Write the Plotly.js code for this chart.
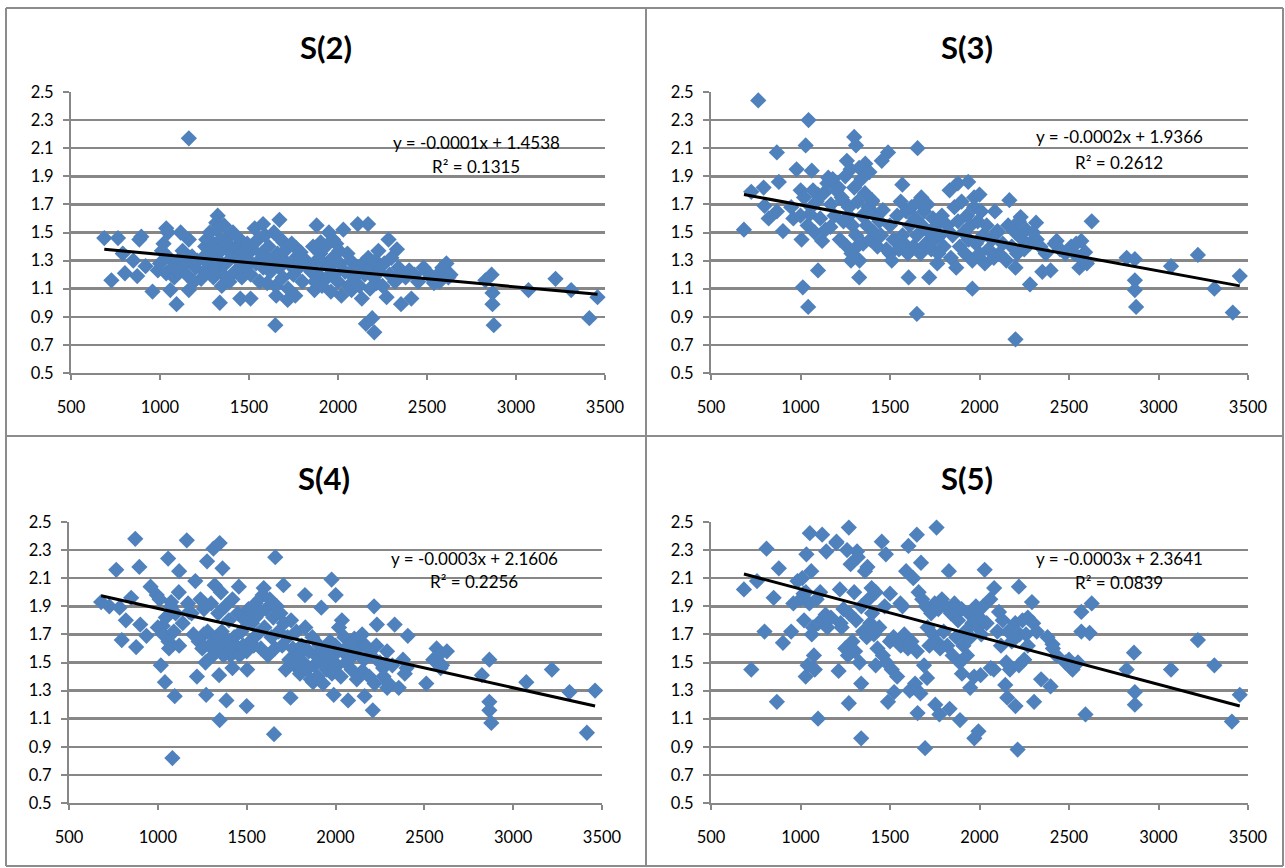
<!DOCTYPE html>
<html>
<head>
<meta charset="utf-8">
<script src="https://cdn.plot.ly/plotly-3.0.1.min.js"></script>
<style>html,body{margin:0;padding:0;background:#fff;}#chart{width:1285px;height:868px;}</style>
</head>
<body>
<div id="chart"></div>
<script>
// ---------- DATA ----------
const panelTitles = ["S(2)", "S(3)", "S(4)", "S(5)"];
const equations = ["y = -0.0001x + 1.4538", "y = -0.0002x + 1.9366", "y = -0.0003x + 2.1606", "y = -0.0003x + 2.3641"];
const rSquared = ["R² = 0.1315", "R² = 0.2612", "R² = 0.2256", "R² = 0.0839"];
const xTicks = [500, 1000, 1500, 2000, 2500, 3000, 3500];
const yTicks = [0.5, 0.7, 0.9, 1.1, 1.3, 1.5, 1.7, 1.9, 2.1, 2.3, 2.5];

const s2x = [687,764,727,791,803,872,884,895,850,919,
958,988,1011,1035,1045,1058,1035,1093,1116,1127,
1162,1162,1162,1231,1254,1324,1316,1336,1347,1393,
1451,1509,1532,1579,1602,1648,1671,1653,1694,1717,
1764,1798,1833,1868,1880,1903,1949,1972,2007,2019,
2030,2053,2076,2111,2134,2169,2157,2192,2204,2216,
2227,2273,2284,2331,2354,2400,2412,2481,2539,2586,
2609,2632,2828,2863,2868,2868,2875,3070,3222,3310,
3412,3458,
1000,1020,1050,1070,1080,1100,1110,1140,1150,1180,
1190,1200,1210,1240,1250,1260,1270,1280,1290,1300,
1300,1310,1320,1330,1340,1350,1355,1360,1370,1380,
1390,1400,1410,1420,1430,1440,1450,1460,1470,1480,
1490,1500,1510,1520,1540,1550,1560,1570,1580,1590,
1600,1610,1620,1630,1640,1650,1660,1670,1680,1690,
1700,1710,1720,1730,1740,1750,1760,1770,1780,1790,
1800,1810,1820,1850,1860,1870,1880,1890,1900,1910,
1920,1930,1940,1950,1960,1970,1980,1990,2000,2010,
2040,2060,2070,2090,2100,2120,2140,2150,2170,2180,
2190,2200,2210,2230,2250,2260,2290,2300,2320,2340,
2360,2380,2430,2450,2500,2520,2560,2570,2600,2620];
const s2y = [1.46,1.46,1.16,1.35,1.21,1.19,1.45,1.47,1.30,1.26,
1.08,1.23,1.37,1.53,1.50,1.09,1.21,0.99,1.50,1.37,
1.45,2.17,1.09,1.17,1.40,1.62,1.57,1.00,1.12,1.48,
1.03,1.03,1.53,1.56,1.14,0.84,1.59,1.05,1.43,1.02,
1.39,1.30,1.25,1.09,1.55,1.43,1.50,1.45,1.37,1.05,
1.52,1.35,1.09,1.56,1.03,1.56,0.85,0.89,0.79,1.14,
1.37,1.04,1.45,1.38,0.99,1.23,1.03,1.25,1.14,1.25,
1.28,1.20,1.16,1.20,1.07,0.99,0.84,1.09,1.17,1.09,
0.89,1.04,
1.28,1.42,1.32,1.25,1.18,1.30,1.22,1.28,1.20,1.33,
1.15,1.25,1.30,1.32,1.22,1.45,1.28,1.50,1.35,1.18,
1.42,1.25,1.52,1.30,1.45,1.38,1.20,1.55,1.28,1.42,
1.15,1.35,1.50,1.22,1.40,1.30,1.45,1.18,1.36,1.25,
1.42,1.30,1.20,1.38,1.28,1.45,1.15,1.35,1.25,1.48,
1.32,1.40,1.22,1.30,1.50,1.12,1.35,1.25,1.45,1.18,
1.30,1.38,1.10,1.27,1.42,1.20,1.05,1.33,1.25,1.36,
1.15,1.28,1.30,1.22,1.40,1.15,1.30,1.20,1.35,1.12,
1.28,1.40,1.18,1.25,1.08,1.32,1.20,1.42,1.15,1.28,
1.22,1.12,1.30,1.18,1.25,1.12,1.28,1.20,1.32,1.10,
1.25,1.18,1.30,1.22,1.12,1.28,1.20,1.32,1.15,1.25,
1.22,1.18,1.20,1.15,1.22,1.18,1.20,1.15,1.22,1.18];

const s3x = [684,725,764,794,799,822,868,879,902,868,
948,960,978,1001,1006,1013,1029,1045,1043,1063,
1052,1098,1121,1098,1155,1167,1213,1236,1259,1270,
1300,1310,1328,1316,1282,1328,1362,1385,1400,1454,
1489,1500,1569,1604,1650,1654,1675,1719,1764,1833,
1879,1937,1960,1970,2000,2086,2100,2167,2201,2201,
2230,2282,2316,2351,2397,2431,2480,2512,2569,2558,
2590,2627,2600,2822,2868,2868,2868,2875,3070,3220,
3312,3415,3454,
1000,1020,1040,1060,1070,1080,1090,1110,1130,1140,
1150,1170,1180,1190,1200,1220,1230,1240,1250,1260,
1270,1280,1285,1290,1300,1310,1320,1330,1340,1345,
1350,1360,1370,1380,1390,1400,1410,1420,1430,1440,
1450,1460,1480,1500,1510,1520,1540,1550,1560,1570,
1580,1590,1600,1610,1620,1630,1640,1650,1660,1670,
1680,1690,1700,1710,1720,1730,1740,1750,1760,1770,
1780,1790,1800,1820,1840,1850,1860,1870,1880,1890,
1900,1910,1920,1930,1940,1950,1960,1970,1980,1990,
2000,2010,2020,2030,2040,2050,2070,2080,2100,2110,
2130,2150,2160,2180,2200,2210,2220,2240,2250,2260,
2280,2300,2320,2340,2370,2420,2450,2530,2540,2580];
const s3y = [1.52,1.79,2.44,1.82,1.69,1.60,2.07,1.86,1.51,1.65,
1.68,1.60,1.95,1.80,1.45,1.11,2.12,2.30,0.97,1.94,
1.63,1.23,1.44,1.77,1.89,1.54,1.82,1.73,2.01,1.62,
2.18,2.12,1.96,1.40,1.30,1.18,1.99,1.93,1.73,2.01,
2.07,1.35,1.84,1.18,0.92,2.10,1.75,1.18,1.28,1.80,
1.85,1.86,1.10,1.75,1.77,1.65,1.51,1.73,1.25,0.74,
1.61,1.13,1.57,1.22,1.23,1.44,1.35,1.40,1.44,1.25,
1.36,1.58,1.28,1.32,1.31,1.16,1.09,0.97,1.26,1.34,
1.10,0.93,1.19,
1.62,1.75,1.55,1.68,1.80,1.50,1.72,1.60,1.78,1.52,
1.85,1.70,1.88,1.62,1.80,1.45,1.75,1.58,1.90,1.40,
1.68,1.95,1.35,1.55,1.82,1.48,1.72,1.30,1.88,1.62,
1.42,1.78,1.55,1.68,1.45,1.72,1.50,1.62,1.40,1.58,
1.48,1.66,1.38,1.55,1.30,1.45,1.62,1.38,1.72,1.48,
1.42,1.65,1.35,1.55,1.68,1.40,1.60,1.48,1.72,1.35,
1.55,1.65,1.42,1.70,1.50,1.38,1.60,1.45,1.55,1.35,
1.48,1.62,1.40,1.55,1.32,1.48,1.68,1.25,1.58,1.40,
1.72,1.50,1.35,1.62,1.45,1.55,1.30,1.68,1.42,1.58,
1.35,1.65,1.48,1.28,1.55,1.38,1.45,1.32,1.50,1.35,
1.42,1.30,1.55,1.40,1.50,1.35,1.58,1.45,1.38,1.52,
1.42,1.50,1.45,1.40,1.35,1.42,1.38,1.35,1.42,1.30];

const s4x = [681,727,766,785,797,820,850,873,878,896,
901,936,959,994,1017,1028,1040,1058,1063,1075,
1082,1095,1118,1120,1163,1176,1211,1220,1258,1277,
1268,1272,1313,1348,1348,1345,1364,1386,1410,1420,
1456,1500,1503,1550,1596,1654,1661,1707,1747,1828,
1874,1920,1978,2001,1990,2036,2071,2106,2152,2164,
2210,2217,2233,2268,2291,2333,2356,2407,2400,2511,
2569,2592,2627,2824,2866,2866,2866,2877,3074,3218,
3317,3415,3461,
1000,1010,1030,1045,1060,1075,1090,1100,1120,1140,
1170,1190,1200,1230,1240,1250,1260,1280,1290,1300,
1310,1320,1330,1340,1350,1355,1360,1370,1380,1390,
1400,1410,1420,1430,1440,1450,1460,1470,1480,1490,
1500,1510,1520,1530,1540,1550,1560,1570,1580,1590,
1600,1610,1620,1630,1640,1650,1660,1670,1680,1690,
1700,1710,1720,1730,1740,1750,1760,1770,1780,1790,
1800,1810,1820,1830,1840,1850,1860,1870,1880,1890,
1900,1910,1920,1930,1940,1950,1960,1970,1980,1990,
2000,2010,2020,2030,2040,2050,2060,2080,2090,2100,
2110,2120,2130,2150,2160,2170,2190,2200,2220,2230,
2250,2270,2290,2300,2320,2380,2390,2550,2580,2600];
const s4y = [1.93,1.90,2.16,1.89,1.66,1.80,1.96,2.38,1.61,2.18,
1.77,1.69,2.04,1.98,1.48,1.76,1.36,2.24,1.60,1.93,
0.82,1.26,2.00,2.15,2.37,1.86,2.08,1.40,1.70,2.22,
1.50,1.27,2.31,2.35,1.09,1.41,2.17,1.23,1.55,1.46,
2.04,1.19,1.45,1.82,2.03,0.99,2.25,2.05,1.25,1.98,
1.36,1.89,2.09,1.98,1.27,1.80,1.23,1.67,1.44,1.26,
1.16,1.90,1.77,1.46,1.32,1.77,1.32,1.69,1.46,1.35,
1.60,1.46,1.58,1.41,1.52,1.22,1.16,1.07,1.36,1.45,
1.29,1.00,1.30,
1.75,1.95,1.70,1.82,1.65,1.90,1.72,1.85,1.62,1.78,
1.92,1.85,1.70,1.65,1.95,1.60,1.88,1.72,1.62,1.92,
1.55,2.05,1.68,1.85,1.60,2.00,1.72,1.55,1.90,1.65,
1.80,1.58,1.95,1.68,1.62,1.85,1.55,1.72,1.62,1.80,
1.58,1.88,1.65,1.78,1.62,1.92,1.70,1.85,1.60,1.98,
1.75,1.88,1.55,1.95,1.68,1.82,1.60,1.90,1.72,1.85,
1.62,1.78,1.45,1.68,1.52,1.80,1.60,1.48,1.72,1.55,
1.42,1.62,1.50,1.75,1.45,1.58,1.38,1.68,1.48,1.55,
1.40,1.62,1.50,1.35,1.58,1.45,1.52,1.65,1.42,1.55,
1.62,1.48,1.75,1.40,1.58,1.68,1.50,1.62,1.45,1.55,
1.65,1.38,1.60,1.70,1.52,1.62,1.40,1.55,1.35,1.62,
1.50,1.40,1.58,1.35,1.48,1.52,1.42,1.52,1.55,1.48];

const s5x = [684,725,757,799,810,850,868,879,902,948,
960,983,1017,1029,1033,1052,1063,1075,1098,1121,
1144,1140,1201,1213,1224,1270,1270,1282,1316,1339,
1339,1374,1397,1420,1454,1477,1489,1500,1523,1558,
1603,1592,1627,1650,1654,1673,1696,1707,1760,1753,
1776,1833,1829,1891,1902,1948,1971,1994,2006,2029,
2063,2082,2109,2144,2155,2201,2213,2220,2224,2270,
2293,2305,2344,2397,2408,2512,2569,2569,2592,2615,
2627,2822,2863,2868,2868,3070,3220,3312,3410,3454,
1000,1010,1020,1030,1040,1050,1060,1070,1080,1090,
1100,1110,1130,1150,1170,1200,1220,1230,1240,1250,
1260,1265,1270,1280,1290,1300,1305,1310,1320,1330,
1340,1350,1360,1370,1380,1390,1400,1410,1420,1430,
1440,1460,1470,1480,1500,1510,1520,1540,1560,1570,
1580,1590,1600,1610,1620,1630,1640,1650,1660,1670,
1680,1690,1700,1710,1720,1730,1740,1750,1760,1770,
1780,1790,1800,1810,1820,1840,1850,1860,1870,1880,
1890,1900,1910,1920,1930,1940,1950,1960,1970,1980,
1990,2000,2010,2020,2040,2060,2080,2100,2120,2130,
2150,2160,2170,2180,2200,2220,2240,2250,2260,2270,
2300,2320,2380,2410,2430,2480,2500,2520,2530,2550];
const s5y = [2.02,1.45,2.08,1.72,2.31,1.96,1.22,2.17,1.64,1.72,
1.92,2.08,1.99,1.40,2.27,2.42,1.70,1.55,1.10,2.41,
2.29,1.84,2.36,1.44,1.78,2.46,1.21,1.60,2.29,0.96,
1.35,2.18,2.03,1.48,2.36,2.27,1.22,1.99,1.29,1.92,
2.33,1.63,1.32,2.41,1.14,2.21,0.89,1.39,2.46,1.20,
1.13,1.17,2.15,1.09,1.42,1.32,0.96,1.01,1.41,2.16,
1.46,2.03,1.86,1.34,1.25,1.19,0.88,2.04,1.70,1.82,
1.93,1.22,1.38,1.33,1.63,1.46,1.86,1.72,1.13,1.71,
1.92,1.45,1.57,1.29,1.20,1.45,1.66,1.48,1.08,1.27,
1.95,2.10,1.80,2.00,1.48,1.92,2.15,1.75,1.45,1.95,
1.78,2.00,1.80,1.75,1.82,2.35,2.02,1.75,1.88,1.60,
2.30,1.55,1.85,2.20,1.65,2.00,1.58,1.80,2.25,1.50,
1.90,1.72,2.15,1.68,1.95,1.78,1.85,1.70,2.00,1.60,
1.75,1.55,1.90,1.50,1.65,1.45,1.68,1.40,1.62,1.90,
1.70,2.15,1.60,1.30,1.65,2.10,1.35,1.58,2.00,1.28,
1.95,1.48,1.90,1.75,1.62,1.85,1.70,1.92,1.65,1.88,
1.60,1.95,1.72,1.90,1.62,1.85,1.55,1.92,1.68,1.80,
1.50,1.88,1.62,1.72,1.55,1.85,1.68,1.78,1.40,1.90,
1.75,1.82,1.70,1.90,1.78,1.95,1.45,1.72,1.62,1.80,
1.50,1.72,1.45,1.65,1.78,1.48,1.80,1.52,1.70,1.62,
1.78,1.72,1.68,1.60,1.55,1.50,1.52,1.45,1.48,1.50];

// Linear trendline ends
const trendX = [[687, 3458], [684, 3454], [681, 3461], [684, 3454]];
const trendY = [[1.38, 1.06], [1.77, 1.12], [1.975, 1.19], [2.13, 1.19]];

const seriesX = [s2x, s3x, s4x, s5x];
const seriesY = [s2y, s3y, s4y, s5y];

// ---------- LAYOUT (pixel geometry) ----------
const W = 1285, H = 868;
const fx = p => p / W;
const fy = p => 1 - p / H;
// plot areas [left, right, top, bottom] in px
const areas = [[71, 605, 92, 373], [711, 1248, 92, 373], [69, 602, 522, 803], [711, 1248, 522, 803]];
const titlePos = [[326, 47], [967, 47], [324, 478], [967, 478]];
const eqPos = [[[476, 143], [476, 166]], [[1119, 137], [1119, 162]], [[474, 558], [474, 581]], [[1119, 558], [1119, 582]]];
const eqBox = [[385, 570, 128, 180], [1026, 1211, 118, 178], [387, 566, 545, 592], [1032, 1211, 545, 592]];

const FONT = "Lato, 'Open Sans', sans-serif";
const BLUE = '#4F81BD';
const GRID = '#878787';

const data = [];
const layout = {
  width: W, height: H,
  margin: {l: 0, r: 0, t: 0, b: 0},
  paper_bgcolor: '#ffffff', plot_bgcolor: 'rgba(0,0,0,0)',
  showlegend: false,
  annotations: [], shapes: []
};

for (let i = 0; i < 4; i++) {
  const n = i === 0 ? '' : String(i + 1);
  const xa = 'x' + n, ya = 'y' + n;
  data.push({
    type: 'scatter', mode: 'markers', x: seriesX[i], y: seriesY[i], xaxis: xa, yaxis: ya,
    marker: {symbol: 'diamond', size: 12.5, color: BLUE, line: {width: 0}},
    hoverinfo: 'skip', cliponaxis: false
  });
  data.push({
    type: 'scatter', mode: 'lines', x: trendX[i], y: trendY[i], xaxis: xa, yaxis: ya,
    line: {color: '#000000', width: 3}, hoverinfo: 'skip'
  });
  const a = areas[i];
  layout['xaxis' + n] = {
    domain: [fx(a[0]), fx(a[1])], anchor: ya, range: [500, 3500],
    tickmode: 'array', tickvals: xTicks, ticktext: xTicks.map(String),
    showgrid: false, zeroline: false, showline: true, linecolor: GRID, linewidth: 2,
    ticks: 'outside', ticklen: 5, tickwidth: 2, tickcolor: GRID,
    ticklabelstandoff: 13,
    tickfont: {family: FONT, size: 16.5, color: '#000'}, fixedrange: true
  };
  layout['yaxis' + n] = {
    domain: [fy(a[3]), fy(a[2])], anchor: xa, range: [0.5, 2.5],
    tickmode: 'array', tickvals: yTicks, ticktext: yTicks.map(v => v.toFixed(1)),
    showgrid: true, gridcolor: GRID, gridwidth: 2.5,
    zeroline: false, showline: true, linecolor: GRID, linewidth: 2,
    ticks: 'outside', ticklen: 6, tickwidth: 2, tickcolor: GRID,
    ticklabelstandoff: 6,
    tickfont: {family: FONT, size: 16.5, color: '#000'}, fixedrange: true
  };
  layout.annotations.push({
    xref: 'paper', yref: 'paper', x: fx(titlePos[i][0]), y: fy(titlePos[i][1]),
    xanchor: 'center', yanchor: 'middle', showarrow: false,
    text: '<b>' + panelTitles[i] + '</b>', font: {family: FONT, size: 31, color: '#000'}
  });
  layout.annotations.push({
    xref: 'paper', yref: 'paper', x: fx(eqPos[i][0][0]), y: fy(eqPos[i][0][1]),
    xanchor: 'center', yanchor: 'middle', showarrow: false,
    text: equations[i], font: {family: FONT, size: 17, color: '#000'}
  });
  layout.annotations.push({
    xref: 'paper', yref: 'paper', x: fx(eqPos[i][1][0]), y: fy(eqPos[i][1][1]),
    xanchor: 'center', yanchor: 'middle', showarrow: false,
    text: rSquared[i], font: {family: FONT, size: 17, color: '#000'}
  });
  const b = eqBox[i];
  layout.shapes.push({
    type: 'rect', xref: 'paper', yref: 'paper', layer: 'between',
    x0: fx(b[0]), x1: fx(b[1]), y0: fy(b[3]), y1: fy(b[2]),
    fillcolor: '#ffffff', line: {width: 0}
  });
}

// chart-object borders
const BORDER = '#8c8c8c';
[[6, 8, 1283, 8], [6, 866, 1283, 866], [6, 8, 6, 866], [1283, 8, 1283, 866], [646, 8, 646, 866], [6, 436, 1283, 436]]
  .forEach(s => layout.shapes.push({
    type: 'line', xref: 'paper', yref: 'paper', layer: 'above',
    x0: fx(s[0]), y0: fy(s[1]), x1: fx(s[2]), y1: fy(s[3]),
    line: {color: BORDER, width: 2}
  }));

Plotly.newPlot('chart', data, layout, {staticPlot: true, displayModeBar: false});
</script>
</body>
</html>
